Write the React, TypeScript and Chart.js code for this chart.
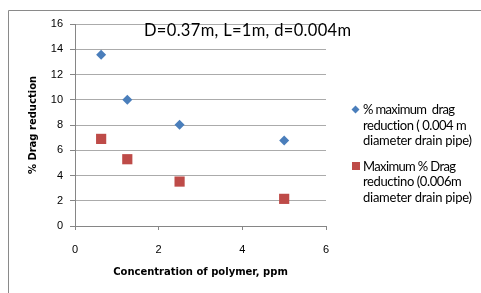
import React, { useEffect, useRef } from "react";
import { Chart, registerables } from "chart.js";

Chart.register(...registerables);

const concentration = [0.625, 1.25, 2.5, 5];
const series1Values = [13.57, 10.0, 8.02, 6.77];
const series2Values = [6.9, 5.29, 3.52, 2.15];
const series1Label = ["% maximum  drag", "reduction ( 0.004 m", "diameter drain pipe)"];
const series2Label = ["Maximum % Drag", "reductino (0.006m", "diameter drain pipe)"];
const chartTitle = "D=0.37m, L=1m, d=0.004m";
const xTitle = "Concentration of polymer, ppm";
const yTitle = "% Drag reduction";

const BLUE = "#4A7EBB";
const RED = "#BE4B48";
const FONT = "Lato, 'Liberation Sans', sans-serif";

function fitText(ctx: CanvasRenderingContext2D, text: string, x: number, y: number, width: number) {
  (ctx as any).letterSpacing = "0px";
  const w = ctx.measureText(text).width;
  const ls = (width - w) / Math.max(1, text.length - 1);
  (ctx as any).letterSpacing = ls + "px";
  ctx.fillText(text, x, y);
  (ctx as any).letterSpacing = "0px";
}

const legendWidths1 = [92, 104, 109];
const legendWidths2 = [93, 99, 109];

const decorPlugin = {
  id: "decor",
  afterDraw(chart: any) {
    const ctx = chart.ctx as CanvasRenderingContext2D;
    ctx.save();
    ctx.strokeStyle = "#8a8a8a";
    ctx.lineWidth = 1;
    ctx.beginPath();
    ctx.moveTo(8.5, 293);
    ctx.lineTo(8.5, 10.5);
    ctx.lineTo(481, 10.5);
    ctx.stroke();

    ctx.fillStyle = "#000";
    ctx.textBaseline = "alphabetic";
    ctx.textAlign = "left";
    ctx.font = "16.5px " + FONT;
    fitText(ctx, chartTitle, 144, 36, 207);

    ctx.font = "13px " + FONT;
    ctx.fillStyle = "#000";
    const lh = 15.5;
    series1Label.forEach((t, i) => fitText(ctx, t, 363, 114 + i * lh, legendWidths1[i]));
    series2Label.forEach((t, i) => fitText(ctx, t, 363, 170.5 + i * lh, legendWidths2[i]));
    ctx.fillStyle = BLUE;
    ctx.beginPath();
    ctx.moveTo(355.5, 105.5);
    ctx.lineTo(359.5, 109.5);
    ctx.lineTo(355.5, 113.5);
    ctx.lineTo(351.5, 109.5);
    ctx.closePath();
    ctx.fill();
    ctx.fillStyle = RED;
    ctx.fillRect(352, 162, 8, 8);
    ctx.restore();
  },
};

export default function App() {
  const ref = useRef<HTMLCanvasElement | null>(null);
  useEffect(() => {
    if (!ref.current) return;
    const chart = new Chart(ref.current, {
      type: "scatter",
      data: {
        datasets: [
          {
            label: series1Label.join(" "),
            data: concentration.map((x, i) => ({ x, y: series1Values[i] })),
            pointStyle: "rectRot",
            pointRadius: 5,
            backgroundColor: BLUE,
            borderColor: BLUE,
            borderWidth: 0,
          },
          {
            label: series2Label.join(" "),
            data: concentration.map((x, i) => ({ x, y: series2Values[i] })),
            pointStyle: "rect",
            pointRadius: 7.2,
            backgroundColor: RED,
            borderColor: RED,
            borderWidth: 0,
          },
        ],
      },
      options: {
        responsive: false,
        animation: false,
        layout: { padding: { left: 0, top: 24, right: 155, bottom: 0 } },
        plugins: { legend: { display: false }, tooltip: { enabled: false } },
        scales: {
          x: {
            type: "linear",
            min: 0,
            max: 6,
            ticks: { stepSize: 2, color: "#000", padding: 13, font: { family: "'Liberation Sans'", size: 11 } },
            grid: { drawOnChartArea: false, drawTicks: true, tickLength: 4, tickColor: "#868686" },
            border: { color: "#868686" },
            title: {
              display: true,
              text: xTitle,
              color: "#000",
              font: { family: "'DejaVu Sans'", size: 10, weight: "bold" },
              padding: { top: 0, bottom: 14.7 },
            },
            afterFit: (s: any) => {
              s.height = 67;
            },
          },
          y: {
            min: 0,
            max: 16,
            ticks: { stepSize: 2, color: "#000", padding: 7, font: { family: "'Liberation Sans'", size: 11 } },
            grid: { color: "#ababab", tickLength: 5, tickColor: "#868686" },
            border: { color: "#868686" },
            title: {
              display: true,
              text: yTitle,
              color: "#000",
              font: { family: "'DejaVu Sans'", size: 10, weight: "bold" },
              padding: { top: 27, bottom: 0 },
            },
            afterFit: (s: any) => {
              s.width = 75;
            },
          },
        },
      },
      plugins: [decorPlugin],
    });
    return () => chart.destroy();
  }, []);
  return (
    <div style={{ position: "fixed", left: 0, top: 0, width: 481, height: 293, background: "#fff" }}>
      <canvas ref={ref} width={481} height={293} style={{ display: "block" }} />
    </div>
  );
}
